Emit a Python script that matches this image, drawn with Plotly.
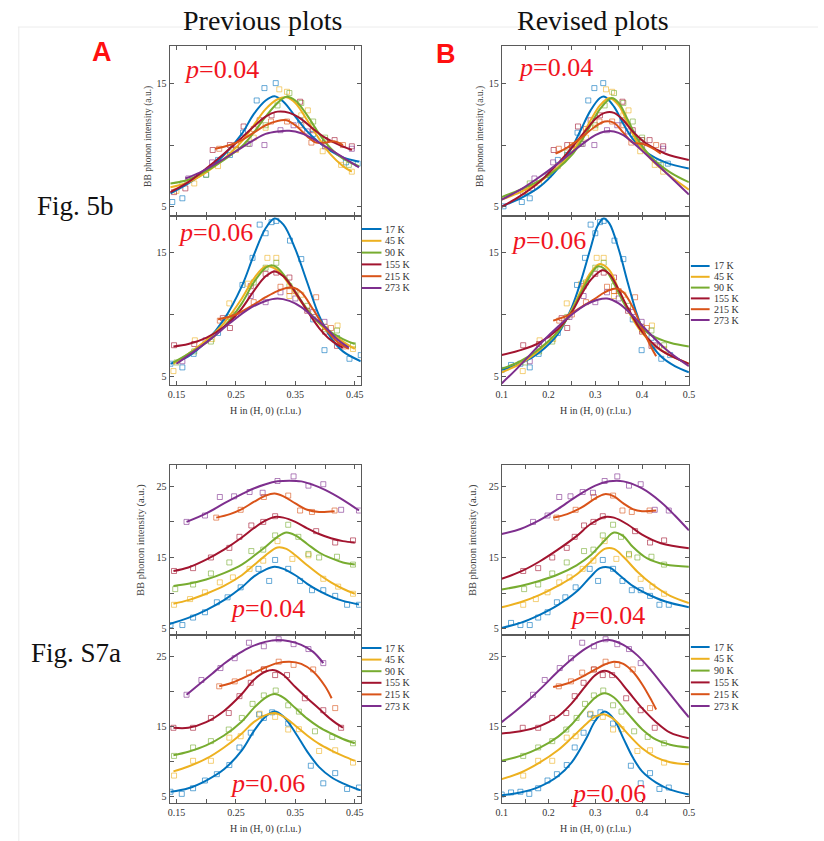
import plotly.graph_objects as go

W, H = 824, 841

TEMPS = ["17 K", "45 K", "90 K", "155 K", "215 K", "273 K"]
COLORS = ["#0072BD", "#EDB120", "#77AC30", "#A2142F", "#D95319", "#7E2F8E"]

# ---------------- measured points (H in r.l.u., intensity in a.u.) ----------------
pts_5b_p04 = {
    "17 K": ([0.104, 0.143, 0.16, 0.20, 0.22, 0.24, 0.262, 0.285, 0.298, 0.317, 0.358, 0.38, 0.40, 0.435, 0.455],
             [5.05, 5.4, 5.7, 7.6, 8.8, 9.2, 11.0, 13.6, 14.6, 15.0, 12.0, 10.9, 10.4, 8.6, 8.5]),
    "45 K": ([0.15, 0.18, 0.22, 0.25, 0.28, 0.30, 0.323, 0.336, 0.36, 0.371, 0.396, 0.427, 0.445],
             [6.3, 6.9, 8.3, 9.6, 10.6, 11.4, 14.5, 14.3, 12.4, 12.8, 9.5, 8.4, 7.85]),
    "90 K": ([0.16, 0.20, 0.24, 0.27, 0.30, 0.32, 0.34, 0.36, 0.38, 0.40, 0.44],
             [6.9, 7.6, 9.4, 10.1, 11.6, 13.2, 14.2, 13.4, 11.9, 10.6, 8.4]),
    "155 K": ([0.146, 0.165, 0.211, 0.24, 0.263, 0.29, 0.31, 0.358, 0.38, 0.416, 0.445],
              [6.2, 6.5, 9.6, 10.0, 11.5, 12.0, 12.4, 13.5, 11.2, 10.4, 9.9]),
    "215 K": ([0.222, 0.25, 0.28, 0.309, 0.336, 0.36, 0.377, 0.40, 0.43],
              [9.7, 10.0, 11.3, 11.9, 11.9, 11.6, 10.2, 10.4, 10.0]),
    "273 K": ([0.17, 0.21, 0.25, 0.273, 0.298, 0.325, 0.347, 0.37, 0.40, 0.445],
              [7.3, 8.6, 9.7, 10.1, 10.0, 11.2, 11.6, 11.1, 9.9, 9.7]),
}

pts_5b_p06 = {
    "17 K": ([0.10, 0.12, 0.14, 0.16, 0.179, 0.22, 0.261, 0.278, 0.29, 0.30, 0.31, 0.318, 0.341, 0.36, 0.38, 0.399, 0.42, 0.441, 0.46],
             [5.5, 5.9, 6.0, 5.7, 6.8, 8.5, 12.4, 14.6, 17.3, 16.6, 17.5, 17.6, 16.0, 14.5, 9.6, 7.1, 8.1, 6.4, 6.7]),
    "45 K": ([0.145, 0.181, 0.21, 0.239, 0.27, 0.303, 0.318, 0.34, 0.36, 0.40, 0.421, 0.447],
             [5.4, 7.9, 8.0, 10.9, 12.5, 14.6, 14.6, 11.5, 11.6, 9.0, 9.1, 7.2]),
    "90 K": ([0.15, 0.18, 0.208, 0.24, 0.28, 0.30, 0.318, 0.34, 0.37, 0.40, 0.42, 0.447],
             [6.1, 7.0, 7.8, 9.8, 12.6, 13.8, 14.2, 12.3, 10.7, 8.8, 8.7, 7.5]),
    "155 K": ([0.146, 0.18, 0.228, 0.24, 0.275, 0.30, 0.318, 0.34, 0.37, 0.40, 0.42],
              [7.5, 7.6, 9.7, 8.9, 12.3, 13.3, 13.4, 13.0, 10.3, 8.6, 7.45]),
    "215 K": ([0.223, 0.25, 0.28, 0.325, 0.34, 0.35, 0.385, 0.41, 0.432],
              [9.5, 10.0, 11.0, 12.25, 11.9, 11.9, 11.4, 8.9, 7.4]),
    "273 K": ([0.16, 0.199, 0.245, 0.275, 0.30, 0.325, 0.35, 0.38, 0.399, 0.428],
              [6.2, 7.9, 9.8, 11.5, 11.0, 11.8, 11.3, 10.2, 9.4, 7.5]),
}

pts_s7a_p04 = {
    "17 K": ([0.12, 0.14, 0.16, 0.178, 0.198, 0.218, 0.236, 0.258, 0.288, 0.306, 0.316, 0.338, 0.358, 0.378, 0.397, 0.417, 0.437, 0.457],
             [5.8, 5.5, 5.5, 6.55, 7.3, 8.7, 9.4, 10.8, 13.4, 11.7, 14.65, 13.4, 11.7, 10.4, 10.4, 9.6, 8.35, 8.35]),
    "45 K": ([0.146, 0.173, 0.198, 0.223, 0.245, 0.273, 0.296, 0.32, 0.345, 0.372, 0.397, 0.422, 0.447],
             [8.35, 9.15, 10.1, 11.5, 12.2, 13.4, 14.55, 17.3, 14.8, 15.3, 12.0, 10.9, 9.9]),
    "90 K": ([0.148, 0.178, 0.208, 0.239, 0.276, 0.296, 0.316, 0.338, 0.355, 0.372, 0.39, 0.42, 0.447],
             [10.55, 11.2, 12.75, 14.3, 15.9, 16.1, 18.1, 19.6, 17.9, 15.5, 15.0, 15.1, 14.0]),
    "155 K": ([0.146, 0.178, 0.208, 0.239, 0.256, 0.276, 0.296, 0.316, 0.385, 0.417, 0.447],
              [13.1, 13.5, 15.0, 16.35, 17.9, 19.5, 20.0, 20.8, 18.7, 17.1, 17.4]),
    "215 K": ([0.217, 0.258, 0.297, 0.338, 0.358, 0.378, 0.416],
              [20.6, 21.7, 23.5, 23.7, 21.6, 21.4, 21.6]),
    "273 K": ([0.167, 0.198, 0.223, 0.247, 0.273, 0.295, 0.32, 0.347, 0.372, 0.397, 0.427, 0.457],
              [20.0, 20.9, 23.5, 23.6, 24.2, 24.1, 25.75, 26.4, 25.1, 25.3, 21.7, 21.6]),
}

pts_s7a_p06 = {
    "17 K": ([0.10, 0.12, 0.14, 0.159, 0.178, 0.198, 0.218, 0.239, 0.256, 0.275, 0.289, 0.297, 0.311, 0.338, 0.376, 0.397, 0.417, 0.437, 0.457],
             [5.3, 5.6, 5.7, 5.4, 6.2, 7.3, 8.2, 9.5, 12.0, 14.1, 16.7, 16.2, 17.0, 15.4, 9.4, 6.9, 8.35, 6.1, 6.3]),
    "45 K": ([0.146, 0.178, 0.208, 0.239, 0.258, 0.29, 0.316, 0.338, 0.356, 0.39, 0.417, 0.447],
             [8.0, 10.1, 10.1, 13.4, 13.6, 16.8, 16.35, 14.55, 14.6, 11.5, 11.6, 9.85]),
    "90 K": ([0.146, 0.178, 0.208, 0.238, 0.26, 0.278, 0.297, 0.317, 0.338, 0.356, 0.383, 0.412, 0.447],
             [10.8, 12.0, 12.9, 14.55, 16.2, 18.2, 19.4, 20.1, 18.0, 17.1, 14.3, 13.5, 12.6]),
    "155 K": ([0.145, 0.178, 0.208, 0.238, 0.256, 0.275, 0.297, 0.316, 0.336, 0.366, 0.397, 0.427],
              [14.8, 14.8, 16.2, 16.9, 19.3, 21.2, 23.1, 22.3, 22.3, 19.0, 17.3, 14.8]),
    "215 K": ([0.222, 0.248, 0.272, 0.297, 0.322, 0.347, 0.38, 0.417],
              [20.7, 21.4, 22.65, 23.1, 24.2, 23.75, 23.1, 17.6]),
    "273 K": ([0.167, 0.192, 0.224, 0.248, 0.272, 0.297, 0.322, 0.347, 0.372, 0.397],
              [19.5, 21.6, 23.3, 24.7, 26.9, 26.4, 27.4, 26.7, 26.0, 24.0]),
}

# ---------------- fitted curves, previous version (A) ----------------
fit_a_5b_p04 = {
    "17 K": ([0.14, 0.17, 0.20, 0.23, 0.26, 0.28, 0.30, 0.315, 0.33, 0.35, 0.37, 0.39, 0.41, 0.43, 0.457],
             [6.1, 6.9, 7.9, 9.2, 10.9, 12.5, 13.6, 13.95, 13.5, 12.3, 11.1, 10.2, 9.5, 9.0, 8.65]),
    "45 K": ([0.14, 0.17, 0.20, 0.23, 0.26, 0.28, 0.30, 0.32, 0.335, 0.35, 0.37, 0.39, 0.41, 0.43, 0.445],
             [6.6, 7.0, 7.8, 8.9, 10.3, 11.6, 12.9, 13.7, 13.85, 13.4, 12.0, 10.5, 9.2, 8.3, 7.85]),
    "90 K": ([0.14, 0.17, 0.20, 0.23, 0.26, 0.28, 0.30, 0.32, 0.335, 0.35, 0.37, 0.39, 0.41, 0.43, 0.457],
             [6.9, 7.2, 7.9, 8.8, 9.9, 11.0, 12.3, 13.4, 13.9, 13.6, 12.4, 10.9, 9.7, 8.9, 8.3]),
    "155 K": ([0.14, 0.17, 0.20, 0.23, 0.26, 0.28, 0.30, 0.32, 0.34, 0.36, 0.38, 0.40, 0.42, 0.445],
              [6.2, 7.0, 8.1, 9.3, 10.6, 11.5, 12.3, 12.7, 12.6, 12.1, 11.3, 10.6, 10.1, 9.6]),
    "215 K": ([0.215, 0.24, 0.26, 0.28, 0.30, 0.32, 0.335, 0.35, 0.37, 0.385, 0.40, 0.415, 0.43],
              [9.7, 10.0, 10.4, 11.0, 11.6, 11.95, 12.0, 11.6, 10.7, 10.2, 10.2, 10.3, 10.0]),
    "273 K": ([0.165, 0.19, 0.22, 0.25, 0.28, 0.30, 0.32, 0.34, 0.36, 0.38, 0.40, 0.42, 0.457],
              [7.3, 7.8, 8.6, 9.5, 10.4, 10.9, 11.1, 11.15, 10.95, 10.5, 9.9, 9.3, 8.2]),
}

fit_a_5b_p06 = {
    "17 K": ([0.14, 0.17, 0.20, 0.23, 0.26, 0.28, 0.30, 0.315, 0.33, 0.35, 0.37, 0.39, 0.41, 0.43, 0.46],
             [6.0, 6.6, 7.8, 9.6, 12.3, 14.8, 17.0, 17.8, 17.3, 15.3, 12.6, 9.9, 8.1, 7.0, 6.2]),
    "45 K": ([0.145, 0.17, 0.20, 0.23, 0.26, 0.28, 0.30, 0.32, 0.34, 0.36, 0.38, 0.40, 0.43, 0.45],
             [6.0, 6.8, 7.9, 9.3, 11.3, 12.9, 13.9, 13.6, 12.4, 11.0, 9.8, 8.8, 7.8, 7.2]),
    "90 K": ([0.145, 0.17, 0.20, 0.23, 0.26, 0.28, 0.30, 0.31, 0.32, 0.34, 0.36, 0.38, 0.40, 0.43, 0.45],
             [6.1, 6.8, 7.7, 9.0, 10.9, 12.6, 13.8, 14.0, 13.8, 12.6, 11.1, 9.8, 8.9, 8.0, 7.6]),
    "155 K": ([0.145, 0.17, 0.20, 0.23, 0.26, 0.28, 0.30, 0.315, 0.33, 0.35, 0.37, 0.39, 0.41, 0.43],
              [7.4, 7.6, 8.1, 9.0, 10.5, 11.9, 13.1, 13.5, 13.1, 11.8, 10.3, 8.9, 7.9, 7.3]),
    "215 K": ([0.22, 0.25, 0.28, 0.30, 0.32, 0.345, 0.36, 0.38, 0.40, 0.42, 0.44],
              [9.6, 10.0, 10.8, 11.4, 11.9, 12.2, 11.8, 10.4, 8.9, 7.8, 7.2]),
    "273 K": ([0.15, 0.18, 0.21, 0.24, 0.27, 0.30, 0.32, 0.34, 0.36, 0.38, 0.40, 0.42, 0.44],
              [6.0, 7.0, 8.1, 9.3, 10.4, 11.1, 11.3, 11.1, 10.6, 9.8, 9.0, 8.0, 7.3]),
}

fit_a_s7a_p04 = {
    "17 K": ([0.137, 0.17, 0.20, 0.23, 0.26, 0.28, 0.30, 0.315, 0.33, 0.35, 0.37, 0.39, 0.41, 0.43, 0.457],
             [5.6, 6.5, 7.6, 9.0, 10.8, 12.3, 13.3, 13.7, 13.4, 12.5, 11.3, 10.3, 9.5, 8.9, 8.4]),
    "45 K": ([0.145, 0.17, 0.20, 0.23, 0.26, 0.28, 0.30, 0.32, 0.335, 0.35, 0.37, 0.39, 0.41, 0.43, 0.45],
             [8.5, 9.0, 9.9, 11.0, 12.5, 13.9, 15.3, 16.4, 16.2, 15.3, 13.9, 12.6, 11.5, 10.6, 9.9]),
    "90 K": ([0.145, 0.17, 0.20, 0.23, 0.26, 0.28, 0.30, 0.32, 0.335, 0.35, 0.37, 0.39, 0.41, 0.43, 0.45],
             [11.0, 11.3, 11.9, 12.8, 14.0, 15.2, 16.5, 17.9, 18.5, 18.1, 16.9, 15.7, 14.9, 14.3, 14.0]),
    "155 K": ([0.145, 0.17, 0.20, 0.23, 0.26, 0.28, 0.30, 0.315, 0.33, 0.35, 0.37, 0.39, 0.41, 0.43, 0.45],
              [13.1, 13.6, 14.7, 16.1, 17.8, 19.1, 20.2, 20.7, 20.6, 20.0, 19.1, 18.3, 17.7, 17.3, 17.1]),
    "215 K": ([0.217, 0.24, 0.26, 0.28, 0.30, 0.315, 0.33, 0.35, 0.37, 0.39, 0.416],
              [20.6, 21.1, 21.8, 22.8, 23.7, 24.0, 23.6, 22.6, 21.7, 21.4, 21.5]),
    "273 K": ([0.167, 0.20, 0.23, 0.26, 0.28, 0.30, 0.32, 0.34, 0.36, 0.38, 0.40, 0.43, 0.457],
              [20.0, 21.2, 22.6, 23.9, 24.7, 25.3, 25.7, 25.8, 25.7, 25.2, 24.5, 23.1, 21.6]),
}

fit_a_s7a_p06 = {
    "17 K": ([0.14, 0.17, 0.20, 0.23, 0.26, 0.28, 0.30, 0.315, 0.33, 0.35, 0.37, 0.39, 0.41, 0.43, 0.46],
             [5.7, 6.2, 7.3, 8.9, 11.6, 14.3, 16.4, 17.1, 16.4, 14.1, 11.4, 9.2, 7.8, 6.9, 5.9]),
    "45 K": ([0.145, 0.17, 0.20, 0.23, 0.26, 0.28, 0.30, 0.315, 0.33, 0.35, 0.37, 0.39, 0.41, 0.43, 0.45],
             [8.6, 9.3, 10.4, 12.0, 14.0, 15.6, 16.6, 16.9, 16.4, 15.1, 13.7, 12.5, 11.6, 10.8, 10.1]),
    "90 K": ([0.145, 0.17, 0.20, 0.23, 0.26, 0.28, 0.30, 0.315, 0.33, 0.35, 0.37, 0.39, 0.41, 0.43, 0.45],
             [10.9, 11.4, 12.3, 13.7, 15.7, 17.6, 19.1, 19.6, 19.1, 17.6, 16.1, 14.9, 14.0, 13.2, 12.6]),
    "155 K": ([0.145, 0.17, 0.20, 0.23, 0.26, 0.28, 0.30, 0.315, 0.33, 0.35, 0.37, 0.39, 0.41, 0.43],
              [14.8, 14.8, 15.6, 17.2, 19.6, 21.6, 22.8, 23.0, 22.3, 20.6, 19.0, 17.5, 16.0, 14.8]),
    "215 K": ([0.222, 0.24, 0.26, 0.28, 0.30, 0.32, 0.34, 0.36, 0.38, 0.40, 0.411],
              [20.7, 21.1, 21.8, 22.6, 23.4, 24.0, 24.2, 23.9, 22.8, 20.7, 19.0]),
    "273 K": ([0.167, 0.19, 0.21, 0.23, 0.25, 0.27, 0.29, 0.31, 0.32, 0.34, 0.36, 0.38, 0.397],
              [19.5, 21.1, 22.5, 23.9, 25.1, 26.1, 26.8, 27.2, 27.3, 27.1, 26.6, 25.6, 24.0]),
}

# ---------------- fitted curves, revised version (B) ----------------
fit_b_5b_p04 = {
    "17 K": ([0.10, 0.14, 0.18, 0.22, 0.25, 0.27, 0.29, 0.31, 0.32, 0.34, 0.36, 0.38, 0.41, 0.45, 0.50],
             [5.05, 5.7, 6.6, 8.1, 9.8, 11.3, 12.8, 13.8, 13.9, 13.1, 11.7, 10.5, 9.4, 8.6, 8.1]),
    "45 K": ([0.10, 0.14, 0.18, 0.22, 0.25, 0.27, 0.29, 0.31, 0.33, 0.35, 0.37, 0.39, 0.42, 0.46, 0.50],
             [5.6, 6.2, 7.0, 8.2, 9.4, 10.6, 12.0, 13.2, 13.8, 13.2, 11.7, 10.2, 8.8, 7.5, 6.4]),
    "90 K": ([0.10, 0.14, 0.18, 0.22, 0.25, 0.27, 0.29, 0.31, 0.335, 0.35, 0.37, 0.39, 0.42, 0.46, 0.50],
             [5.8, 6.4, 7.1, 8.1, 9.2, 10.3, 11.6, 12.9, 13.8, 13.4, 12.0, 10.5, 9.0, 7.8, 7.0]),
    "155 K": ([0.10, 0.14, 0.18, 0.22, 0.25, 0.28, 0.30, 0.32, 0.34, 0.36, 0.38, 0.41, 0.45, 0.50],
              [5.0, 5.9, 7.0, 8.5, 9.8, 11.2, 12.1, 12.6, 12.6, 12.0, 11.1, 10.1, 9.3, 8.8]),
    "215 K": ([0.215, 0.24, 0.27, 0.30, 0.32, 0.34, 0.36, 0.38, 0.40, 0.42, 0.44],
              [9.3, 9.8, 10.6, 11.5, 11.9, 11.8, 11.0, 10.2, 10.1, 9.8, 9.3]),
    "273 K": ([0.10, 0.14, 0.18, 0.22, 0.25, 0.28, 0.30, 0.32, 0.34, 0.36, 0.38, 0.41, 0.45, 0.50],
              [5.6, 6.4, 7.4, 8.5, 9.4, 10.3, 10.8, 11.1, 11.1, 10.8, 10.2, 9.2, 7.8, 6.0]),
}

fit_b_5b_p06 = {
    "17 K": ([0.10, 0.14, 0.18, 0.22, 0.25, 0.27, 0.29, 0.305, 0.318, 0.33, 0.35, 0.37, 0.39, 0.41, 0.44, 0.47, 0.50],
             [5.5, 6.0, 6.9, 8.4, 10.6, 12.8, 15.4, 17.2, 17.8, 17.4, 15.3, 12.5, 9.9, 8.1, 6.6, 5.8, 5.3]),
    "45 K": ([0.10, 0.14, 0.18, 0.22, 0.25, 0.27, 0.29, 0.31, 0.33, 0.35, 0.37, 0.40, 0.44, 0.50],
             [5.3, 6.0, 7.1, 8.6, 10.4, 12.0, 13.4, 14.1, 13.6, 12.0, 10.3, 8.5, 7.1, 6.0]),
    "90 K": ([0.10, 0.14, 0.18, 0.22, 0.25, 0.27, 0.29, 0.305, 0.32, 0.34, 0.36, 0.39, 0.42, 0.46, 0.50],
             [5.6, 6.2, 7.2, 8.6, 10.3, 11.8, 13.2, 13.9, 13.7, 12.5, 11.0, 9.3, 8.3, 7.7, 7.4]),
    "155 K": ([0.10, 0.14, 0.18, 0.22, 0.25, 0.27, 0.29, 0.315, 0.33, 0.35, 0.37, 0.40, 0.44, 0.50],
              [6.7, 7.1, 7.7, 8.8, 10.2, 11.6, 12.8, 13.6, 13.3, 12.0, 10.5, 8.6, 7.1, 6.0]),
    "215 K": ([0.21, 0.24, 0.27, 0.30, 0.32, 0.345, 0.36, 0.38, 0.40, 0.42, 0.43],
              [9.5, 9.9, 10.6, 11.3, 11.8, 12.1, 11.8, 10.6, 8.9, 7.3, 6.6]),
    "273 K": ([0.10, 0.13, 0.16, 0.19, 0.22, 0.25, 0.28, 0.305, 0.325, 0.35, 0.38, 0.41, 0.45, 0.50],
              [4.4, 5.5, 6.7, 7.9, 9.0, 10.0, 10.8, 11.2, 11.3, 10.9, 9.9, 8.7, 7.2, 5.8]),
}

fit_b_s7a_p04 = {
    "17 K": ([0.10, 0.14, 0.18, 0.22, 0.26, 0.29, 0.31, 0.33, 0.35, 0.38, 0.41, 0.45, 0.50],
             [5.1, 5.8, 6.9, 8.3, 10.2, 12.3, 13.5, 13.6, 12.6, 11.0, 9.9, 8.8, 8.0]),
    "45 K": ([0.10, 0.14, 0.18, 0.22, 0.26, 0.29, 0.32, 0.34, 0.36, 0.39, 0.42, 0.46, 0.50],
             [8.0, 8.7, 9.7, 11.0, 12.6, 14.4, 16.2, 16.2, 15.1, 13.0, 11.3, 9.6, 8.6]),
    "90 K": ([0.10, 0.14, 0.18, 0.22, 0.26, 0.29, 0.32, 0.34, 0.36, 0.38, 0.41, 0.45, 0.50],
             [10.5, 11.0, 11.7, 12.6, 13.9, 15.3, 17.4, 18.5, 18.0, 16.5, 14.9, 14.0, 13.7]),
    "155 K": ([0.10, 0.14, 0.18, 0.22, 0.26, 0.29, 0.32, 0.34, 0.37, 0.40, 0.44, 0.50],
              [12.0, 13.0, 14.4, 16.1, 18.0, 19.7, 20.7, 20.6, 19.6, 18.2, 17.0, 16.3]),
    "215 K": ([0.21, 0.24, 0.27, 0.30, 0.32, 0.34, 0.36, 0.38, 0.40, 0.43],
              [20.6, 21.1, 22.0, 23.3, 23.9, 23.6, 22.6, 21.8, 21.5, 21.6]),
    "273 K": ([0.10, 0.14, 0.18, 0.22, 0.26, 0.30, 0.33, 0.36, 0.40, 0.44, 0.47, 0.50],
              [18.3, 19.0, 20.2, 21.8, 23.6, 25.1, 25.7, 25.7, 24.7, 22.8, 20.9, 18.8]),
}

fit_b_s7a_p06 = {
    "17 K": ([0.10, 0.14, 0.18, 0.22, 0.25, 0.28, 0.30, 0.32, 0.34, 0.36, 0.38, 0.40, 0.43, 0.46, 0.50],
             [5.2, 5.6, 6.4, 7.9, 9.9, 13.2, 15.8, 17.1, 16.0, 13.3, 10.6, 8.6, 7.0, 6.0, 5.3]),
    "45 K": ([0.10, 0.14, 0.18, 0.22, 0.25, 0.28, 0.30, 0.32, 0.34, 0.37, 0.40, 0.43, 0.46, 0.50],
             [7.5, 8.4, 9.8, 11.6, 13.4, 15.3, 16.4, 16.7, 16.0, 13.9, 11.9, 10.6, 9.9, 9.6]),
    "90 K": ([0.10, 0.14, 0.18, 0.22, 0.25, 0.28, 0.30, 0.32, 0.34, 0.37, 0.40, 0.43, 0.46, 0.50],
             [10.1, 10.8, 11.9, 13.5, 15.3, 17.7, 19.1, 19.7, 19.1, 16.8, 14.6, 13.1, 12.4, 12.0]),
    "155 K": ([0.10, 0.14, 0.18, 0.22, 0.25, 0.28, 0.30, 0.32, 0.34, 0.37, 0.40, 0.43, 0.46, 0.50],
              [14.0, 14.3, 15.0, 16.4, 18.3, 20.8, 22.3, 22.9, 22.3, 20.0, 17.6, 15.6, 14.1, 13.3]),
    "215 K": ([0.21, 0.24, 0.27, 0.30, 0.32, 0.34, 0.36, 0.38, 0.40, 0.42, 0.43],
              [20.6, 21.1, 22.0, 23.1, 23.8, 24.2, 23.9, 22.8, 21.0, 18.7, 17.4]),
    "273 K": ([0.10, 0.13, 0.16, 0.19, 0.22, 0.25, 0.28, 0.31, 0.33, 0.36, 0.39, 0.42, 0.45, 0.48, 0.50],
              [15.6, 17.2, 18.9, 20.8, 22.8, 24.6, 26.1, 27.1, 27.3, 26.6, 25.1, 22.9, 20.4, 17.9, 16.3]),
}

# ---------------- axis settings ----------------
XRANGE_A = [0.1385, 0.46]
XRANGE_B = [0.1, 0.5]
XTICKS_A = [0.15, 0.20, 0.25, 0.30, 0.35, 0.40, 0.45]
XTEXT_A = ["0.15", "", "0.25", "", "0.35", "", "0.45"]
XTICKS_B = [0.10, 0.15, 0.20, 0.25, 0.30, 0.35, 0.40, 0.45, 0.50]
XTEXT_B = ["0.1", "", "0.2", "", "0.3", "", "0.4", "", "0.5"]
YRANGE_5B = [4.27, 18.0]
YTICKS_5B = [5, 10, 15]
YTEXT_5B = ["5", "", "15"]
YRANGE_S7A = [4.1, 28.0]
YTICKS_S7A = [5, 10, 15, 20, 25]
YTEXT_S7A = ["5", "", "15", "", "25"]

SERIF = "Liberation Serif, Times New Roman, serif"
RED = "#F0141E"
FRAME = "#5a5a5a"

# panel boxes in pixels: (x0, x1, y0, y1)
COL_X = {"A": (166, 360), "B": (503, 693)}
ROW_Y = [(46, 216), (216, 385), (465, 635), (635, 803)]

panels = [
    ("A", 0, pts_5b_p04, fit_a_5b_p04, "5b", False, "p=0.04"),
    ("A", 1, pts_5b_p06, fit_a_5b_p06, "5b", True, "p=0.06"),
    ("A", 2, pts_s7a_p04, fit_a_s7a_p04, "s7a", False, "p=0.04"),
    ("A", 3, pts_s7a_p06, fit_a_s7a_p06, "s7a", True, "p=0.06"),
    ("B", 0, pts_5b_p04, fit_b_5b_p04, "5b", False, "p=0.04"),
    ("B", 1, pts_5b_p06, fit_b_5b_p06, "5b", True, "p=0.06"),
    ("B", 2, pts_s7a_p04, fit_b_s7a_p04, "s7a", False, "p=0.04"),
    ("B", 3, pts_s7a_p06, fit_b_s7a_p06, "s7a", True, "p=0.06"),
]

# positions (px) of the red p labels: left x, centre y
P_LABEL_POS = {
    ("A", 0): (179, 70), ("A", 1): (173, 233), ("A", 2): (225, 608), ("A", 3): (225, 783),
    ("B", 0): (518, 68), ("B", 1): (510, 240), ("B", 2): (570, 615), ("B", 3): (571, 793),
}


def px(x):
    return x / W


def py(y):
    return 1 - y / H


fig = go.Figure()
layout = {}
annotations = []
shapes = []

# faint page border
shapes.append(dict(type="line", xref="paper", yref="paper", x0=px(12), x1=px(824),
                   y0=py(27), y1=py(27), line=dict(color="#ececec", width=1)))
shapes.append(dict(type="line", xref="paper", yref="paper", x0=px(13), x1=px(13),
                   y0=py(27), y1=py(841), line=dict(color="#ececec", width=1)))

for i, (col, row, pts, fits, kind, bottom, ptxt) in enumerate(panels, start=1):
    xa = "x" if i == 1 else f"x{i}"
    ya = "y" if i == 1 else f"y{i}"
    x0, x1 = COL_X[col]
    y0, y1 = ROW_Y[row]

    for name, color in zip(TEMPS, COLORS):
        hx, hy = pts[name]
        fig.add_trace(go.Scatter(
            x=hx, y=hy, mode="markers", xaxis=xa, yaxis=ya, showlegend=False,
            marker=dict(symbol="square-open", size=5, opacity=0.6,
                        color=color, line=dict(width=1, color=color)),
            hoverinfo="skip"))
    for name, color in zip(TEMPS, COLORS):
        fx, fy = fits[name]
        fig.add_trace(go.Scatter(
            x=fx, y=fy, mode="lines", xaxis=xa, yaxis=ya, showlegend=False,
            line=dict(color=color, width=2, shape="spline", smoothing=1.0),
            name=name))

    axis_common = dict(
        ticks="inside", ticklen=4, tickwidth=1, tickcolor=FRAME,
        showline=True, linecolor=FRAME, linewidth=1, mirror="ticks",
        showgrid=False, zeroline=False,
        tickfont=dict(family=SERIF, size=10, color="#333"),
    )
    if col == "A":
        xt, xtx, xr = XTICKS_A, XTEXT_A, XRANGE_A
    else:
        xt, xtx, xr = XTICKS_B, XTEXT_B, XRANGE_B
    if kind == "5b":
        yt, ytx, yr = YTICKS_5B, YTEXT_5B, YRANGE_5B
    else:
        yt, ytx, yr = YTICKS_S7A, YTEXT_S7A, YRANGE_S7A

    layout["xaxis" if i == 1 else f"xaxis{i}"] = dict(
        domain=[px(x0), px(x1)], range=xr, anchor=ya,
        tickmode="array", tickvals=xt, ticktext=xtx, showticklabels=bottom,
        **axis_common)
    layout["yaxis" if i == 1 else f"yaxis{i}"] = dict(
        domain=[py(y1), py(y0)], range=yr, anchor=xa,
        tickmode="array", tickvals=yt, ticktext=ytx,
        **axis_common)

    # red p label
    lx, ly = P_LABEL_POS[(col, row)]
    pnum = ptxt.split("=")[1]
    annotations.append(dict(
        xref="paper", yref="paper", x=px(lx), y=py(ly), xanchor="left", yanchor="middle",
        text=f"<i>p</i>={pnum}", showarrow=False,
        font=dict(family=SERIF, size=26, color=RED)))

    if bottom:
        annotations.append(dict(
            xref="paper", yref="paper", x=px((x0 + x1) / 2), y=py(y1 + 26),
            xanchor="center", yanchor="middle", text="H in (H, 0) (r.l.u.)",
            showarrow=False, font=dict(family=SERIF, size=10, color="#333")))
    else:
        if kind == "5b":
            tx, tyc, fs = (x0 - 21, (y0 + y1) / 2 + 5, 9.5)
        else:
            tx, tyc, fs = (x0 - 29, (y0 + y1) / 2 - 10, 10.5)
        annotations.append(dict(
            xref="paper", yref="paper", x=px(tx), y=py(tyc), xanchor="center", yanchor="middle",
            text="BB phonon intensity (a.u.)", textangle=-90, showarrow=False,
            font=dict(family=SERIF, size=fs, color="#444")))

# ---------------- hand-drawn legends (compact spacing) ----------------
LEGENDS = [
    (361, 381, 229, 11.8),   # A, Fig. 5b
    (695, 714, 266, 10.8),   # B, Fig. 5b
    (361, 381, 648, 11.6),   # A, Fig. S7a
    (695, 714, 647, 11.8),   # B, Fig. S7a
]
for lx0, lx1, ly0, dy in LEGENDS:
    for k, (name, color) in enumerate(zip(TEMPS, COLORS)):
        yy = ly0 + k * dy
        shapes.append(dict(type="line", xref="paper", yref="paper",
                           x0=px(lx0), x1=px(lx1), y0=py(yy), y1=py(yy),
                           line=dict(color=color, width=2)))
        annotations.append(dict(
            xref="paper", yref="paper", x=px(lx1 + 2), y=py(yy), xanchor="left", yanchor="middle",
            text=name, showarrow=False, font=dict(family=SERIF, size=10, color="#333")))

# ---------------- headings ----------------
annotations += [
    dict(xref="paper", yref="paper", x=px(260), y=py(21), text="Previous plots",
         showarrow=False, xanchor="center", yanchor="middle",
         font=dict(family=SERIF, size=28, color="#111")),
    dict(xref="paper", yref="paper", x=px(596), y=py(20), text="Revised plots",
         showarrow=False, xanchor="center", yanchor="middle",
         font=dict(family=SERIF, size=28, color="#111")),
    dict(xref="paper", yref="paper", x=px(97), y=py(52), text="<b>A</b>",
         showarrow=False, xanchor="center", yanchor="middle",
         font=dict(family="Liberation Sans, Arial, sans-serif", size=27, color="#FF1010")),
    dict(xref="paper", yref="paper", x=px(447), y=py(54), text="<b>B</b>",
         showarrow=False, xanchor="center", yanchor="middle",
         font=dict(family="Liberation Sans, Arial, sans-serif", size=27, color="#FF1010")),
    dict(xref="paper", yref="paper", x=px(71), y=py(206), text="Fig. 5b",
         showarrow=False, xanchor="center", yanchor="middle",
         font=dict(family=SERIF, size=27, color="#111")),
    dict(xref="paper", yref="paper", x=px(71), y=py(653), text="Fig. S7a",
         showarrow=False, xanchor="center", yanchor="middle",
         font=dict(family=SERIF, size=27, color="#111")),
]

fig.update_layout(
    width=W, height=H,
    margin=dict(l=0, r=0, t=0, b=0),
    paper_bgcolor="white", plot_bgcolor="white",
    showlegend=False,
    annotations=annotations, shapes=shapes,
    **layout,
)

fig.write_html("out.html")
